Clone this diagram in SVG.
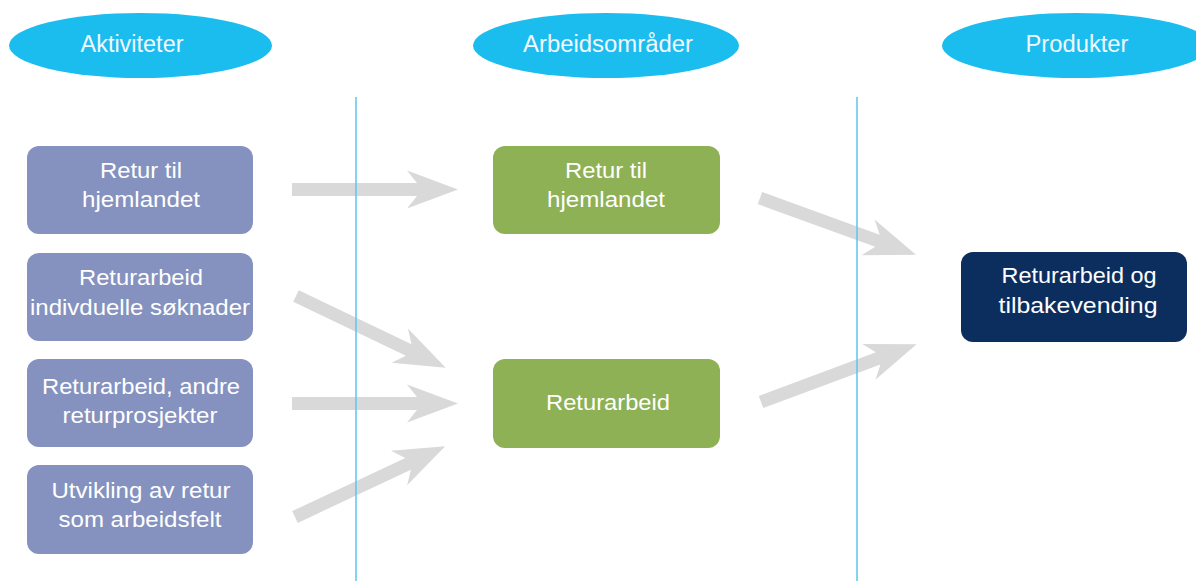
<svg xmlns="http://www.w3.org/2000/svg" xmlns:xlink="http://www.w3.org/1999/xlink" width="1196" height="581" viewBox="0 0 1196 581">
  <style>
    .head { fill: #1BBDEF; }
    .act { fill: #8592BF; }
    .area { fill: #8DB154; }
    .prod { fill: #0B2E5F; }
    .sep { stroke: #5CC3EC; stroke-width: 1.5; fill: none; }
    text { font-family: "Liberation Sans", Arial, sans-serif; font-size: 21.5px; fill: #FFFFFF; text-anchor: middle; }
    .title { font-size: 23px; fill: #F2F8FF; }
  </style>
  <defs>
    <!-- block arrow, tail at origin, pointing along +x -->
    <path id="arrow" d="M0,-6.5 L125,-6.5 L115,-19 L166,0 L115,19 L125,6.5 L0,6.5 Z" fill="#D9D9D9"/>
  </defs>
  <rect width="1196" height="581" fill="#FFFFFF"/>

  <!-- column headings -->
  <g id="heading-aktiviteter">
    <ellipse class="head" cx="140.5" cy="45.5" rx="131.5" ry="32.5"/>
    <text class="title" x="132" y="52" textLength="103" lengthAdjust="spacingAndGlyphs">Aktiviteter</text>
  </g>
  <g id="heading-arbeidsomrader">
    <ellipse class="head" cx="606" cy="45.5" rx="133" ry="32.5"/>
    <text class="title" x="608" y="52" textLength="170" lengthAdjust="spacingAndGlyphs">Arbeidsområder</text>
  </g>
  <g id="heading-produkter">
    <ellipse class="head" cx="1076" cy="45.5" rx="134" ry="32.5"/>
    <text class="title" x="1077" y="52" textLength="103" lengthAdjust="spacingAndGlyphs">Produkter</text>
  </g>

  <!-- connectors -->
  <g id="connectors">
    <use xlink:href="#arrow" transform="translate(292,189.5)"/>
    <use xlink:href="#arrow" transform="translate(296,296) rotate(25.6)"/>
    <use xlink:href="#arrow" transform="translate(292,403.5)"/>
    <use xlink:href="#arrow" transform="translate(295,517) rotate(-25.2)"/>
    <use xlink:href="#arrow" transform="translate(760,198) rotate(20)"/>
    <use xlink:href="#arrow" transform="translate(761,402) rotate(-20.4)"/>
  </g>

  <!-- column separators -->
  <g id="separators">
    <line class="sep" x1="356" y1="97" x2="356" y2="581"/>
    <line class="sep" x1="857" y1="97" x2="857" y2="581"/>
  </g>

  <!-- activities -->
  <g id="act-retur">
    <rect class="act" x="27" y="146" width="226" height="88" rx="12"/>
    <text x="141" y="178" textLength="82" lengthAdjust="spacingAndGlyphs">Retur til</text>
    <text x="141" y="207" textLength="118" lengthAdjust="spacingAndGlyphs">hjemlandet</text>
  </g>
  <g id="act-individuelle">
    <rect class="act" x="27" y="253" width="226" height="88" rx="12"/>
    <text x="141" y="285" textLength="124" lengthAdjust="spacingAndGlyphs">Returarbeid</text>
    <text x="140" y="315" textLength="220" lengthAdjust="spacingAndGlyphs">indivduelle søknader</text>
  </g>
  <g id="act-andre">
    <rect class="act" x="27" y="359" width="226" height="88" rx="12"/>
    <text x="141" y="394" textLength="198" lengthAdjust="spacingAndGlyphs">Returarbeid, andre</text>
    <text x="140" y="423" textLength="155" lengthAdjust="spacingAndGlyphs">returprosjekter</text>
  </g>
  <g id="act-utvikling">
    <rect class="act" x="27" y="465" width="226" height="89" rx="12"/>
    <text x="141" y="498" textLength="179" lengthAdjust="spacingAndGlyphs">Utvikling av retur</text>
    <text x="140" y="527" textLength="163" lengthAdjust="spacingAndGlyphs">som arbeidsfelt</text>
  </g>

  <!-- work areas -->
  <g id="area-retur">
    <rect class="area" x="493" y="146" width="227" height="88" rx="12"/>
    <text x="606" y="178" textLength="82" lengthAdjust="spacingAndGlyphs">Retur til</text>
    <text x="606" y="207" textLength="118" lengthAdjust="spacingAndGlyphs">hjemlandet</text>
  </g>
  <g id="area-returarbeid">
    <rect class="area" x="493" y="359" width="227" height="89" rx="12"/>
    <text x="608" y="410" textLength="124" lengthAdjust="spacingAndGlyphs">Returarbeid</text>
  </g>

  <!-- product -->
  <g id="prod-returarbeid">
    <rect class="prod" x="961" y="252" width="226" height="90" rx="12"/>
    <text x="1079" y="283" textLength="155" lengthAdjust="spacingAndGlyphs">Returarbeid og</text>
    <text x="1078" y="313" textLength="159" lengthAdjust="spacingAndGlyphs">tilbakevending</text>
  </g>
</svg>
